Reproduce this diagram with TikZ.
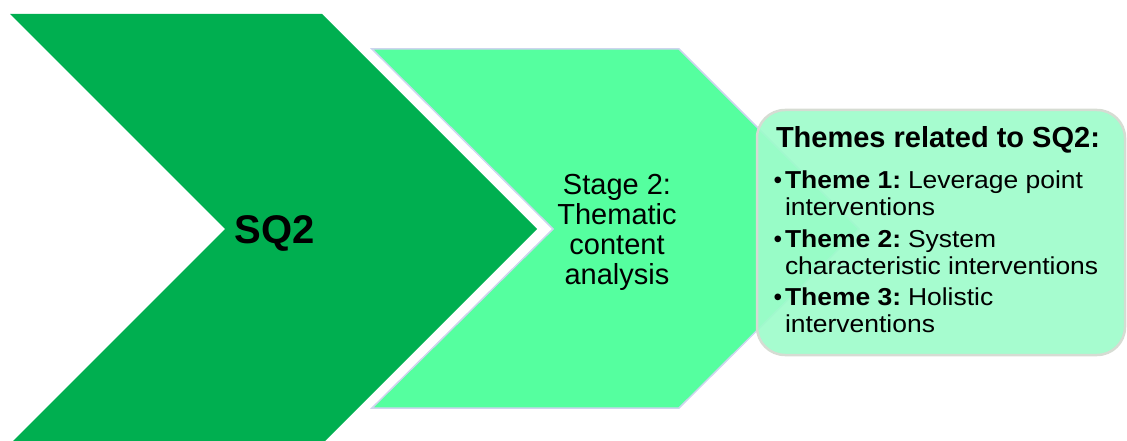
\documentclass[tikz,border=0pt]{standalone}
\usepackage{fontspec}
\setmainfont{Liberation Sans}
\newfontfamily\itemfont[FakeStretch=1.08]{Liberation Sans}
\definecolor{darkgreen}{HTML}{00AF50}
\definecolor{lightgreen}{HTML}{55FF9F}
\definecolor{boxgreen}{HTML}{9EFCCB}
\definecolor{edgeblue}{HTML}{CDD5EE}
\definecolor{boxedge}{HTML}{D6DCD3}
\begin{document}
\begin{tikzpicture}[x=1pt,y=-1pt,
  txt/.style={inner sep=0pt, outer sep=0pt, text=black},
  sqtext/.style={txt, font=\fontsize{40}{42}\selectfont\bfseries},
  stagetext/.style={txt, anchor=base, font=\fontsize{29}{30}\selectfont},
  titletext/.style={txt, anchor=base west, font=\fontsize{29}{30}\selectfont\bfseries},
  itemtext/.style={txt, anchor=base west, font=\itemfont\fontsize{24.5}{27}\selectfont},
  bullettext/.style={txt, anchor=base, font=\fontsize{24.5}{27}\selectfont}]
\useasboundingbox (0,0) rectangle (1127,441);
\clip (0,0) rectangle (1127,441);

% second stage chevron
\path[fill=lightgreen, draw=edgeblue, line width=1.5pt, line join=miter]
  (372,49) -- (679,49) -- (859,229) -- (679,408) -- (372,408) -- (553,229) -- cycle;

% first stage chevron
\path[fill=darkgreen]
  (10,14) -- (322,14) -- (537,229) -- (322,444) -- (10,444) -- (225,229) -- cycle;

% results box
\path[fill=boxgreen, fill opacity=0.92, draw=boxedge, line width=2.5pt,
      rounded corners=28pt]
  (757,110) rectangle (1125,355);

\node[sqtext, anchor=base] (sq) at (275,243) {SQ2};

\node[stagetext] (s1) at (617,194) {Stage 2:};
\node[stagetext] (s2) at (617,224) {Thematic};
\node[stagetext] (s3) at (617,254) {content};
\node[stagetext] (s4) at (617,284) {analysis};

\node[titletext] (title) at (776,148) {Themes related to SQ2:};

\node[bullettext] (b1) at (778,188) {•};
\node[itemtext] (t1a) at (785,188) {\textbf{Theme 1:}\hspace{0.28em}Leverage point};
\node[itemtext] (t1b) at (785,215) {interventions};

\node[bullettext] (b2) at (778,247) {•};
\node[itemtext] (t2a) at (785,247) {\textbf{Theme 2:}\hspace{0.28em}System};
\node[itemtext] (t2b) at (785,274) {characteristic interventions};

\node[bullettext] (b3) at (778,305) {•};
\node[itemtext] (t3a) at (785,305) {\textbf{Theme 3:}\hspace{0.28em}Holistic};
\node[itemtext] (t3b) at (785,332) {interventions};
\end{tikzpicture}
\end{document}
